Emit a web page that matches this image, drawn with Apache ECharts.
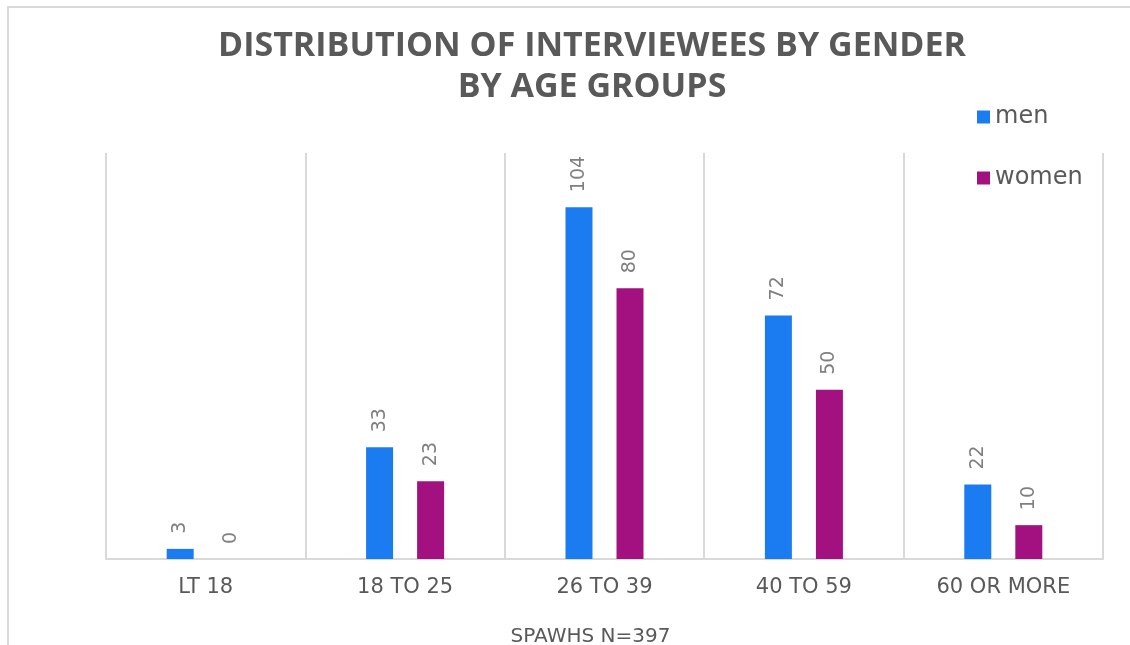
<!doctype html>
<html>
<head>
    <meta charset="utf-8">
    <title>Distribution of interviewees by gender by age groups</title>
    <script src="https://cdn.jsdelivr.net/npm/echarts@6/dist/echarts.min.js"></script>
    <style>
        html, body { margin: 0; padding: 0; background: #fff; }
        #main { width: 1130px; height: 645px; }
    </style>
</head>
<body>
    <div id="main"></div>
<script type="text/javascript">
    // data
    var ageGroups = ['LT 18', '18 TO 25', '26 TO 39', '40 TO 59', '60 OR MORE'];
    var men = [3, 33, 104, 72, 22];
    var women = [0, 23, 80, 50, 10];

    var myChart = echarts.init(document.getElementById('main'));

    var labelStyle = {
        show: true,
        position: 'top',
        rotate: 90,
        align: 'left',
        verticalAlign: 'middle',
        distance: 15,
        color: '#7f7f7f',
        fontSize: 19,
        fontFamily: 'DejaVu Sans'
    };

    var option = {
        animation: false,
        backgroundColor: '#fff',
        color: ['#1a7cf0', '#a3107f'],
        title: {
            text: 'DISTRIBUTION OF INTERVIEWEES BY GENDER\nBY AGE GROUPS',
            left: 587,            // with textAlign set, this is the centre of the text
            textAlign: 'center',
            top: 21,
            textStyle: {
                fontFamily: 'Open Sans',
                fontWeight: 'bold',
                fontSize: 34,
                lineHeight: 41,
                color: '#595959'
            }
        },
        legend: {
            orient: 'vertical',
            left: 972,
            top: 100,
            itemWidth: 13,
            itemHeight: 13,
            itemGap: 37,
            icon: 'rect',
            data: ['men', 'women'],
            textStyle: {
                fontFamily: 'DejaVu Sans',
                fontSize: 24,
                color: '#595959'
            }
        },
        graphic: [{
            type: 'rect',
            silent: true,
            shape: { x: 8, y: 7, width: 1300, height: 800 },
            style: { fill: 'none', stroke: '#d9d9d9', lineWidth: 2 }
        }],
        grid: {
            left: 106,
            right: 27,
            top: 153,
            bottom: 86,
            outerBoundsMode: 'none'
        },
        xAxis: {
            type: 'category',
            data: ageGroups,
            name: 'SPAWHS N=397',
            nameLocation: 'middle',
            nameGap: 68,
            nameTextStyle: {
                fontFamily: 'DejaVu Sans',
                fontSize: 20,
                color: '#595959',
                padding: [0, 28, 0, 0]
            },
            axisLine: { lineStyle: { color: '#d9d9d9', width: 2 } },
            axisTick: { show: false },
            axisLabel: {
                margin: 18,
                fontFamily: 'DejaVu Sans',
                fontSize: 21,
                color: '#595959'
            },
            splitLine: { show: true, lineStyle: { color: '#d9d9d9', width: 2 } }
        },
        yAxis: {
            type: 'value',
            min: 0,
            max: 120,
            interval: 20,
            axisLine: { show: false },
            axisTick: { show: false },
            axisLabel: { show: false },
            splitLine: { show: false }
        },
        series: [{
            name: 'men',
            type: 'bar',
            barWidth: 27,
            barGap: '89%',
            label: labelStyle,
            data: men
        }, {
            name: 'women',
            type: 'bar',
            barWidth: 27,
            label: labelStyle,
            data: women
        }]
    };

    myChart.setOption(option);
</script>
</body>
</html>
